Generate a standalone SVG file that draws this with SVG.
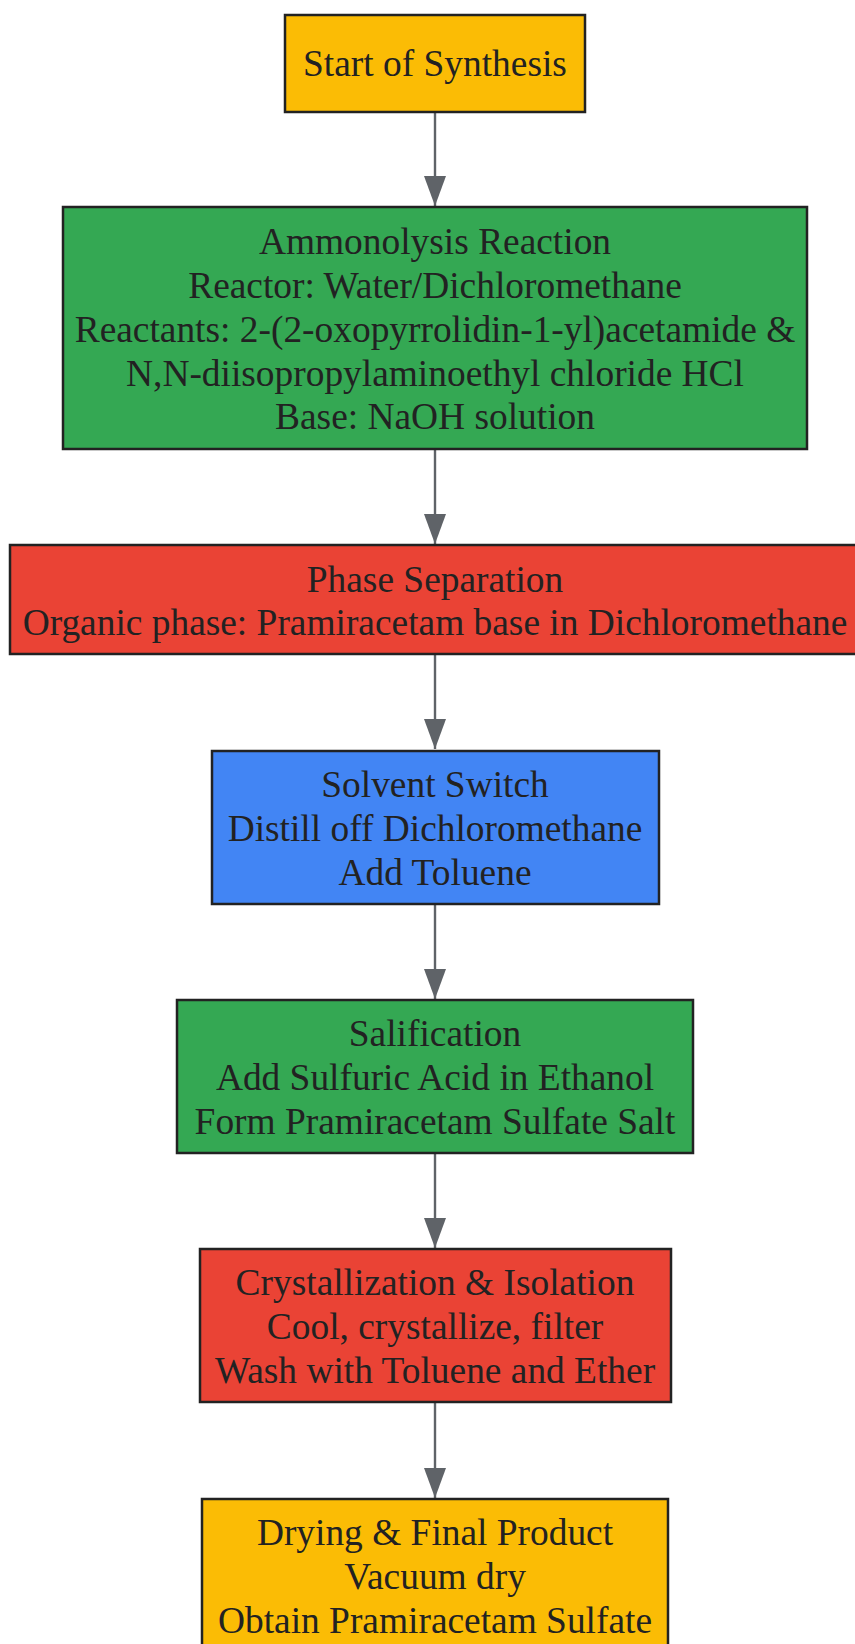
<svg xmlns="http://www.w3.org/2000/svg" width="855" height="1644" viewBox="0 0 855 1644">
<style>
.box{stroke:#222;stroke-width:2.5}
.y{fill:#FBBC05}.g{fill:#34A853}.r{fill:#EA4335}.b{fill:#4285F4}
text{font-family:"Liberation Serif","Times New Roman",serif;font-size:37.4px;fill:#222;text-anchor:middle;dominant-baseline:central}
.edge{stroke:#5f6368;stroke-width:2.4;fill:none;marker-end:url(#ah)}
</style>
<defs>
<marker id="ah" markerUnits="userSpaceOnUse" markerWidth="30" markerHeight="22" refX="30" refY="11" orient="auto" viewBox="0 0 30 22">
<path d="M0,0 L30,11 L0,22 Z" fill="#5f6368"/>
</marker>
</defs>
<rect width="855" height="1644" fill="#fff"/>
<g id="edges">
<line class="edge" x1="435" y1="112" x2="435" y2="206"/>
<line class="edge" x1="435" y1="449" x2="435" y2="544"/>
<line class="edge" x1="435" y1="654" x2="435" y2="749"/>
<line class="edge" x1="435" y1="904" x2="435" y2="999"/>
<line class="edge" x1="435" y1="1153" x2="435" y2="1248"/>
<line class="edge" x1="435" y1="1402" x2="435" y2="1498"/>
</g>
<g id="start">
<rect class="box y" x="285" y="15" width="300" height="97"/>
<text x="435" y="63">Start of Synthesis</text>
</g>
<g id="ammonolysis">
<rect class="box g" x="63" y="207" width="744" height="242"/>
<text x="435" y="241">Ammonolysis Reaction</text>
<text x="435" y="285">Reactor: Water/Dichloromethane</text>
<text x="435" y="329">Reactants: 2-(2-oxopyrrolidin-1-yl)acetamide &amp;</text>
<text x="435" y="373">N,N-diisopropylaminoethyl chloride HCl</text>
<text x="435" y="416">Base: NaOH solution</text>
</g>
<g id="phase">
<rect class="box r" x="10" y="545" width="850" height="109"/>
<text x="435" y="579">Phase Separation</text>
<text x="435" y="622">Organic phase: Pramiracetam base in Dichloromethane</text>
</g>
<g id="solvent">
<rect class="box b" x="212" y="751" width="447" height="153"/>
<text x="435" y="784">Solvent Switch</text>
<text x="435" y="828">Distill off Dichloromethane</text>
<text x="435" y="872">Add Toluene</text>
</g>
<g id="salification">
<rect class="box g" x="177" y="1000" width="516" height="153"/>
<text x="435" y="1033">Salification</text>
<text x="435" y="1077">Add Sulfuric Acid in Ethanol</text>
<text x="435" y="1121">Form Pramiracetam Sulfate Salt</text>
</g>
<g id="crystallization">
<rect class="box r" x="200" y="1249" width="471" height="153"/>
<text x="435" y="1282">Crystallization &amp; Isolation</text>
<text x="435" y="1326">Cool, crystallize, filter</text>
<text x="435" y="1370">Wash with Toluene and Ether</text>
</g>
<g id="drying">
<rect class="box y" x="202" y="1499" width="466" height="160"/>
<text x="435" y="1532">Drying &amp; Final Product</text>
<text x="435" y="1576">Vacuum dry</text>
<text x="435" y="1620">Obtain Pramiracetam Sulfate</text>
</g>
</svg>
